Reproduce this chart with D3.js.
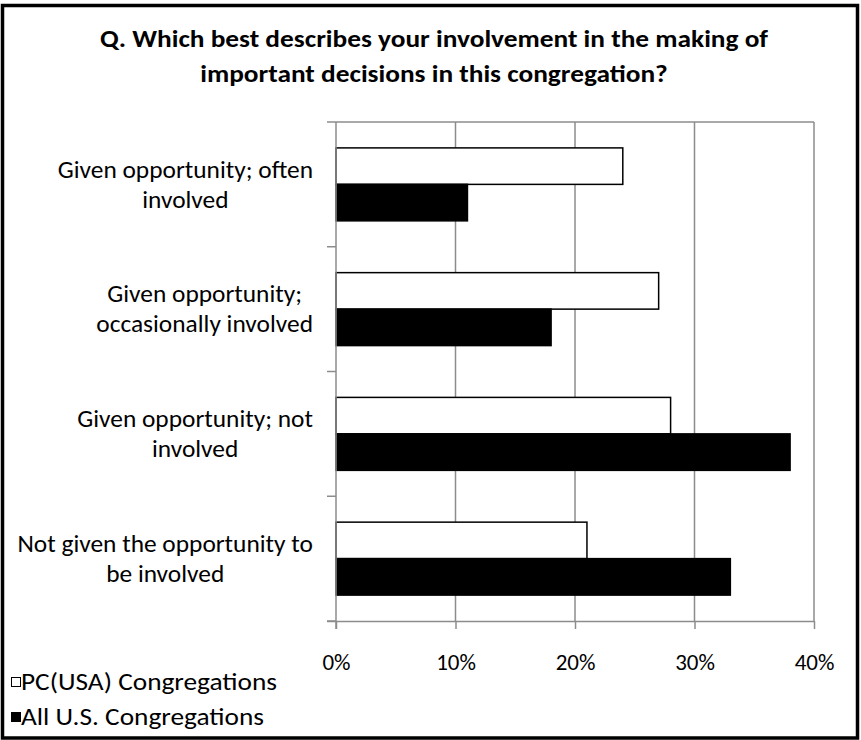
<!DOCTYPE html>
<html>
<head>
<meta charset="utf-8">
<script src="https://cdn.jsdelivr.net/npm/d3@7"></script>
<style>
  html, body { margin: 0; padding: 0; background: #fff; }
  svg { display: block; }
  text { font-family: Carlito, Calibri, Lato, sans-serif; fill: #000; }
</style>
</head>
<body>
<svg id="chart" width="861" height="740"></svg>
<script>
// ---- data ----
const titleLines = ["Q. Which best describes your involvement in the making of",
                    "important decisions in this congregation?"];
const categories = ["Given opportunity; often involved",
                    "Given opportunity; occasionally involved",
                    "Given opportunity; not involved",
                    "Not given the opportunity to be involved"];
const categoryLines = [["Given opportunity; often", "involved"],
                       ["Given opportunity;", "occasionally involved"],
                       ["Given opportunity; not", "involved"],
                       ["Not given the opportunity to", "be involved"]];
const seriesNames = ["PC(USA) Congregations", "All U.S. Congregations"];
const pcusaValues = [24, 27, 28, 21];
const allUSValues = [11, 18, 38, 33];
const xTicks = [0, 10, 20, 30, 40];
const xTickLabels = ["0%", "10%", "20%", "30%", "40%"];
const seriesFill = ["#ffffff", "#000000"];

// ---- layout ----
const svg = d3.select("#chart");
const plot = { left: 336, right: 814, top: 122, bottom: 621 };
const FONT = "Carlito, Calibri, Lato, sans-serif";

// stretch text horizontally by factor k (Calibri-like proportions)
function stretch(sel, k) {
  const w = sel.node().getComputedTextLength();
  sel.attr("textLength", w * k).attr("lengthAdjust", "spacingAndGlyphs");
  return w * k;
}

// frame
svg.append("rect")
  .attr("x", 2.5).attr("y", 5.5).attr("width", 855).attr("height", 732.5)
  .attr("fill", "none").attr("stroke", "#000").attr("stroke-width", 3.5);

// title
const titleTexts = titleLines.map((t, i) => svg.append("text")
  .attr("x", 434).attr("y", 47 + i * 35)
  .attr("text-anchor", "middle")
  .attr("font-weight", "bold")
  .attr("font-size", 24)
  .text(t));
const tk = 668 / titleTexts[0].node().getComputedTextLength();
titleTexts.forEach(t => stretch(t, tk));

// scales
const x = d3.scaleLinear().domain([0, 40]).range([plot.left, plot.right]);
const y0 = d3.scaleBand().domain(categories).range([plot.top, plot.bottom]).padding(0);
const y1 = d3.scaleBand().domain(seriesNames).range([0, y0.bandwidth()])
  .paddingInner(0).paddingOuter(0.71);

const grid = "#8c8c8c";

// vertical gridlines
svg.append("g").selectAll("line").data(xTicks.slice(1)).join("line")
  .attr("x1", d => x(d)).attr("x2", d => x(d))
  .attr("y1", plot.top).attr("y2", plot.bottom)
  .attr("stroke", grid).attr("stroke-width", 1.5);
// top border of plot
svg.append("line")
  .attr("x1", plot.left).attr("x2", plot.right)
  .attr("y1", plot.top).attr("y2", plot.top)
  .attr("stroke", grid).attr("stroke-width", 1.5);

// bars
const data = categories.map((c, i) => ({ cat: c, vals: [pcusaValues[i], allUSValues[i]] }));
const groups = svg.append("g").selectAll("g").data(data).join("g")
  .attr("transform", d => `translate(0,${y0(d.cat)})`);
groups.selectAll("rect").data(d => d.vals.map((v, j) => ({ v, s: seriesNames[j], j })))
  .join("rect")
  .attr("x", x(0))
  .attr("y", d => y1(d.s))
  .attr("width", d => x(d.v) - x(0))
  .attr("height", y1.bandwidth())
  .attr("fill", d => seriesFill[d.j])
  .attr("stroke", "#000").attr("stroke-width", 1.5);

// x axis
const xAxis = d3.axisBottom(x).tickValues(xTicks)
  .tickFormat((d, i) => xTickLabels[i]).tickSize(8).tickPadding(25);
const gx = svg.append("g").attr("transform", `translate(0,${plot.bottom})`).call(xAxis);
gx.select(".domain").attr("stroke", grid).attr("stroke-width", 1.5)
  .attr("d", `M${plot.left - 9},0.5H${plot.right}`);
gx.selectAll(".tick line").attr("stroke", grid).attr("stroke-width", 1.5);
gx.selectAll(".tick text").attr("font-size", 23).attr("font-family", FONT);

// y axis (category axis with boundary ticks)
const boundaries = categories.map(c => y0(c)).concat([plot.bottom]);
svg.append("line")
  .attr("x1", plot.left).attr("x2", plot.left)
  .attr("y1", plot.top).attr("y2", plot.bottom + 8)
  .attr("stroke", grid).attr("stroke-width", 1.5);
svg.append("g").selectAll("line").data(boundaries).join("line")
  .attr("x1", plot.left - 9).attr("x2", plot.left)
  .attr("y1", d => d).attr("y2", d => d)
  .attr("stroke", grid).attr("stroke-width", 1.5);

// category labels
const labelRight = 313;
const lineH = 30;
const K = 1.08;
categories.forEach((c, i) => {
  const lines = categoryLines[i];
  const g = svg.append("g");
  const texts = lines.map((l, k) => g.append("text")
    .attr("font-size", 23.5)
    .attr("text-anchor", "middle")
    .attr("y", y0(c) + y0.bandwidth() / 2 + (k - (lines.length - 1) / 2) * lineH)
    .attr("dy", "0.35em")
    .text(l));
  const widths = texts.map(t => stretch(t, K));
  const maxW = d3.max(widths);
  texts.forEach(t => t.attr("x", labelRight - maxW / 2));
});

// legend
const legend = svg.append("g");
const legendTexts = seriesNames.map((s, i) => {
  const cy = 682 + i * 35;
  legend.append("rect")
    .attr("x", 11.5).attr("y", cy - 4.5).attr("width", 9).attr("height", 9)
    .attr("fill", seriesFill[i]).attr("stroke", "#000").attr("stroke-width", 1);
  return legend.append("text")
    .attr("x", 21).attr("y", cy).attr("dy", "0.35em")
    .attr("font-size", 23.5).text(s);
});
const lk = 256 / legendTexts[0].node().getComputedTextLength();
legendTexts.forEach(t => stretch(t, lk));
</script>
</body>
</html>
